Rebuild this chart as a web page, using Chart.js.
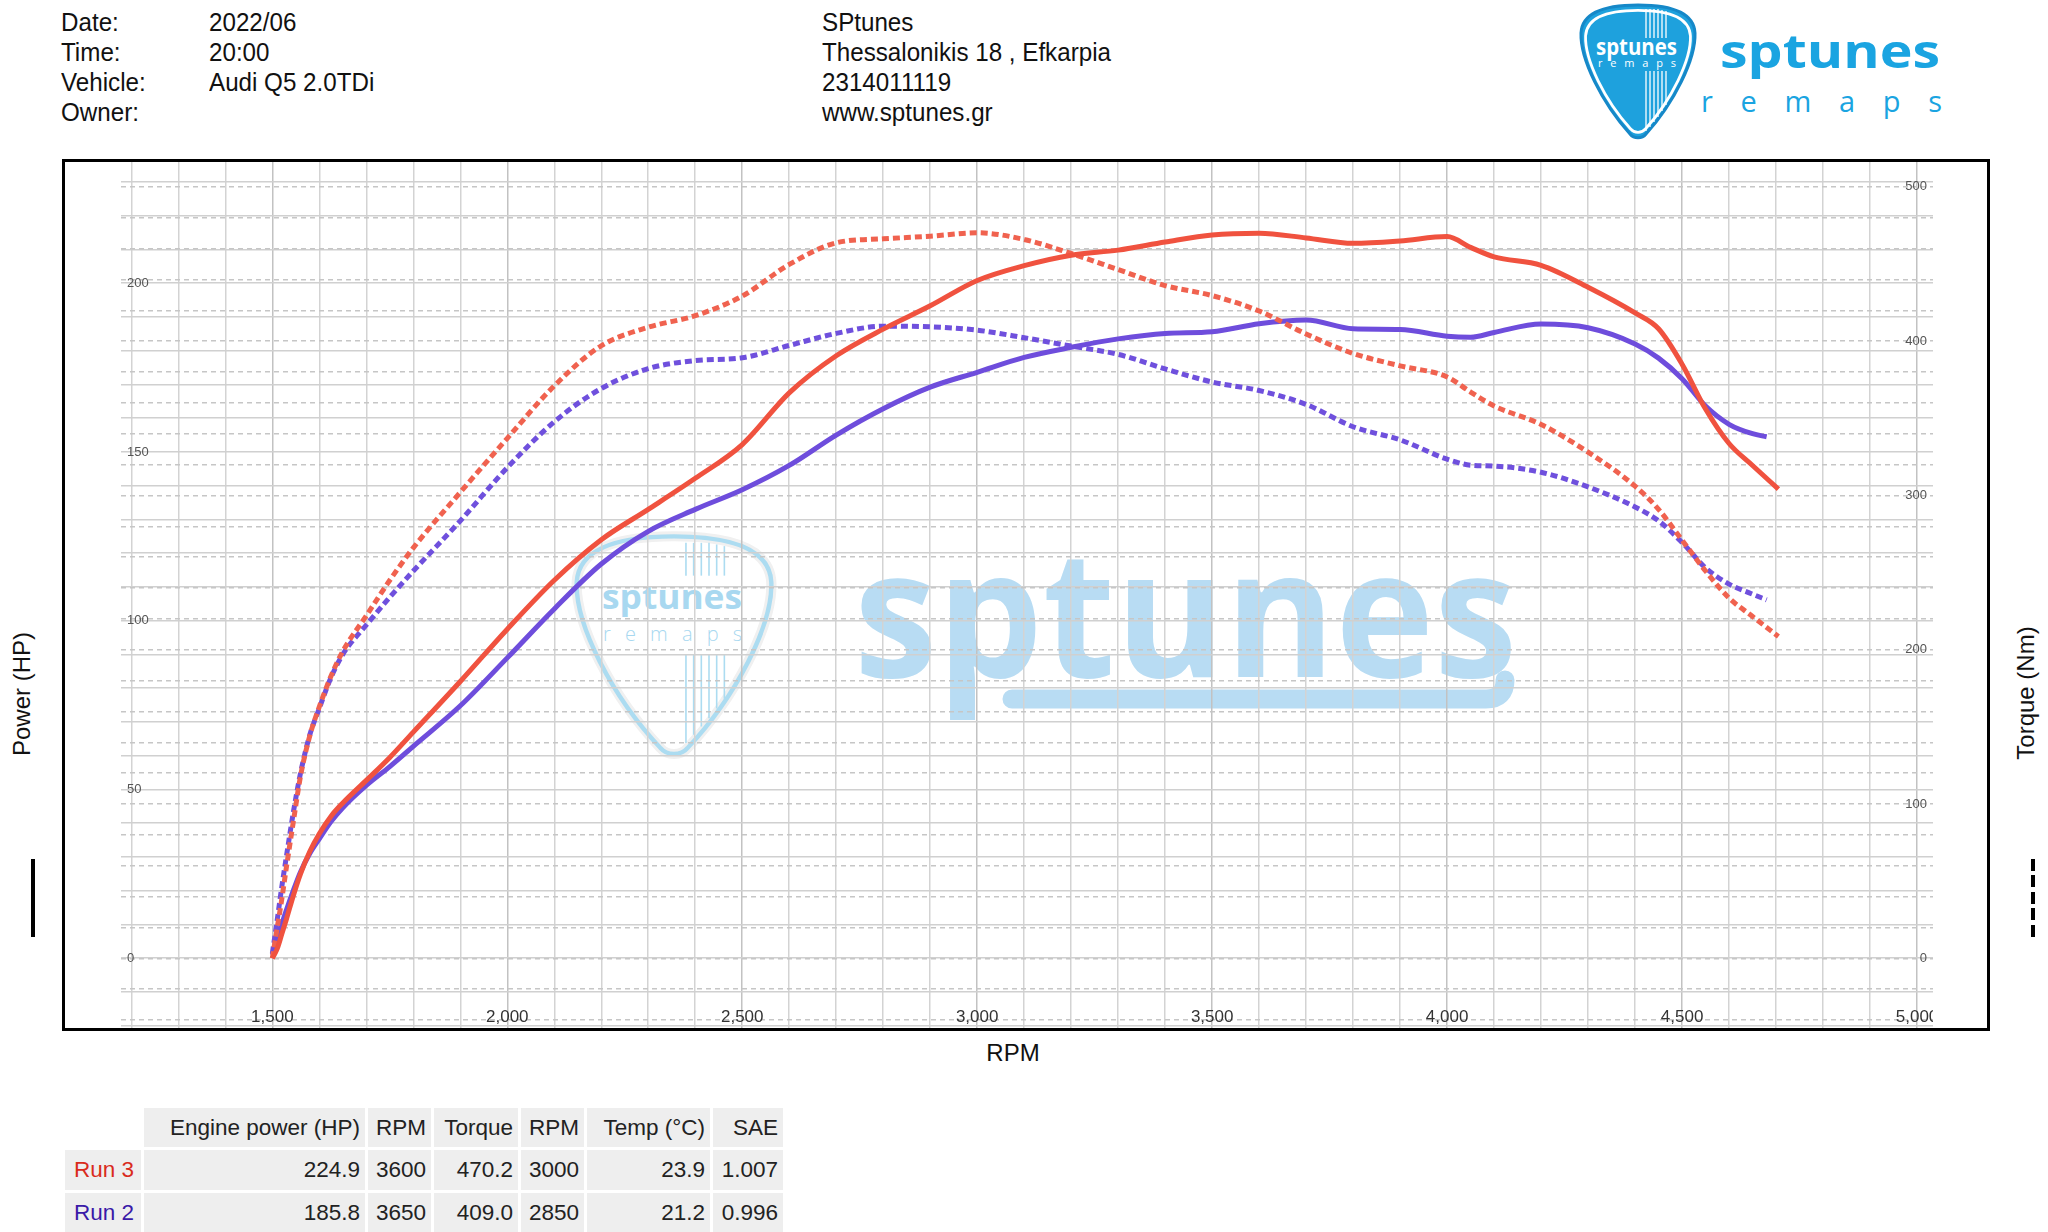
<!DOCTYPE html>
<html>
<head>
<meta charset="utf-8">
<script src="https://cdn.jsdelivr.net/npm/chart.js"></script>
<style>
html,body{margin:0;padding:0;background:#fff;width:2048px;height:1232px;overflow:hidden;font-family:"Liberation Sans",Arial,sans-serif;}
.abs{position:absolute;}
.hdr{position:absolute;font-size:26px;line-height:30px;color:#111;white-space:nowrap;transform:scaleX(0.93);transform-origin:left center;}
.frame{position:absolute;left:62px;top:159px;width:1928px;height:872px;border:3px solid #000;box-sizing:border-box;}
#wrap{position:absolute;left:121px;top:162px;width:1812px;height:866px;}
.vtitle{position:absolute;width:240px;text-align:center;font-size:24px;line-height:30px;color:#111;transform:rotate(-90deg);}
table.res{position:absolute;left:62px;top:1105px;border-collapse:separate;border-spacing:3px;font-size:22.5px;color:#222;}
table.res td{background:#eeeeee;text-align:right;padding:0;white-space:nowrap;}
table.res td span{margin-right:5px;}
table.res td.blank{background:transparent;}
</style>
</head>
<body>
<!-- decorative logos / watermark (below the chart canvas) -->
<svg class="abs" style="left:0;top:0" width="2048" height="1232">
  <defs>
    <path id="pick" d="M58,2 C92,2 114,10 115,30 C116,56 94,100 66,131 C62,136 54,136 50,131 C22,100 0,56 1,30 C2,10 24,2 58,2 Z"/>
  </defs>
  <!-- header logo -->
  <g transform="translate(1580,3)">
    <use href="#pick" fill="#1ea1dd" stroke="#1688c8" stroke-width="3"/>
    <g transform="translate(58,68) scale(0.92) translate(-58,-68)"><use href="#pick" fill="none" stroke="#ffffff" stroke-width="3"/></g>
    <g stroke="#ffffff" stroke-width="1.3">
      <line x1="66" y1="6" x2="66" y2="35"/><line x1="70" y1="6" x2="70" y2="35"/><line x1="74" y1="6" x2="74" y2="35"/>
      <line x1="78" y1="6" x2="78" y2="35"/><line x1="82" y1="7" x2="82" y2="35"/><line x1="86" y1="8" x2="86" y2="35"/>
      <line x1="66" y1="68" x2="66" y2="128"/><line x1="70" y1="68" x2="70" y2="124"/><line x1="74" y1="68" x2="74" y2="119"/>
      <line x1="78" y1="68" x2="78" y2="114"/><line x1="82" y1="68" x2="82" y2="108"/><line x1="86" y1="68" x2="86" y2="102"/>
    </g>
    <text x="16" y="52" font-family="Open Sans" font-weight="700" font-size="23" fill="#fff" textLength="81" lengthAdjust="spacingAndGlyphs">sptunes</text>
    <text x="18" y="64" font-family="Open Sans" font-weight="400" font-size="11" fill="#fff" textLength="78" lengthAdjust="spacing">remaps</text>
  </g>
  <text x="1720" y="68" font-family="Open Sans" font-weight="700" font-size="47" fill="#1aa4e1" textLength="220" lengthAdjust="spacingAndGlyphs">sptunes</text>
  <text x="1701" y="112" font-family="Open Sans" font-weight="400" font-size="29" fill="#1aa4e1" textLength="241" lengthAdjust="spacing">remaps</text>

  <!-- watermark -->
  <g transform="translate(575,533) scale(1.707,1.64)">
    <use href="#pick" fill="none" stroke="#f0f0f0" stroke-width="6" vector-effect="non-scaling-stroke"/>
    <use href="#pick" fill="none" stroke="#acdcf1" stroke-width="2.6" vector-effect="non-scaling-stroke"/>
    <g stroke="#acdcf1" stroke-width="1.6">
      <line x1="65" y1="6" x2="65" y2="26" vector-effect="non-scaling-stroke"/><line x1="69.5" y1="6" x2="69.5" y2="26" vector-effect="non-scaling-stroke"/>
      <line x1="74" y1="6" x2="74" y2="26" vector-effect="non-scaling-stroke"/><line x1="78.5" y1="6" x2="78.5" y2="26" vector-effect="non-scaling-stroke"/>
      <line x1="83" y1="7" x2="83" y2="26" vector-effect="non-scaling-stroke"/><line x1="87.5" y1="8" x2="87.5" y2="26" vector-effect="non-scaling-stroke"/>
      <line x1="65" y1="74" x2="65" y2="128" vector-effect="non-scaling-stroke"/><line x1="69.5" y1="74" x2="69.5" y2="123" vector-effect="non-scaling-stroke"/>
      <line x1="74" y1="74" x2="74" y2="118" vector-effect="non-scaling-stroke"/><line x1="78.5" y1="74" x2="78.5" y2="113" vector-effect="non-scaling-stroke"/>
      <line x1="83" y1="74" x2="83" y2="107" vector-effect="non-scaling-stroke"/><line x1="87.5" y1="74" x2="87.5" y2="101" vector-effect="non-scaling-stroke"/>
    </g>
  </g>
  <text x="602" y="609" font-family="Open Sans" font-weight="700" font-size="34" fill="#a8d8f0" textLength="140" lengthAdjust="spacingAndGlyphs">sptunes</text>
  <text x="603" y="641" font-family="Open Sans" font-weight="300" font-size="20" fill="#a8d8f0" textLength="139" lengthAdjust="spacing">remaps</text>
  <text x="854" y="677" font-family="Open Sans" font-weight="700" font-size="178" fill="#b8dcf3" textLength="663" lengthAdjust="spacingAndGlyphs">sptunes</text>
  <path d="M1012,699 L1486,699 Q1505,699 1505,680" fill="none" stroke="#b8dcf3" stroke-width="19" stroke-linecap="round"/>
</svg>

<!-- header -->
<div class="hdr" style="left:61px;top:7px">Date:</div>
<div class="hdr" style="left:209px;top:7px">2022/06</div>
<div class="hdr" style="left:61px;top:37px">Time:</div>
<div class="hdr" style="left:209px;top:37px">20:00</div>
<div class="hdr" style="left:61px;top:67px">Vehicle:</div>
<div class="hdr" style="left:209px;top:67px">Audi Q5 2.0TDi</div>
<div class="hdr" style="left:61px;top:97px">Owner:</div>
<div class="hdr" style="left:822px;top:7px">SPtunes</div>
<div class="hdr" style="left:822px;top:37px">Thessalonikis 18 , Efkarpia</div>
<div class="hdr" style="left:822px;top:67px">2314011119</div>
<div class="hdr" style="left:822px;top:97px">www.sptunes.gr</div>

<div class="frame"></div>
<div id="wrap"><canvas id="c" width="1812" height="866" style="width:1812px;height:866px"></canvas></div>

<!-- axis titles and line-style keys -->
<div class="vtitle" style="left:-98px;top:679px">Power (HP)</div>
<div class="vtitle" style="left:1906px;top:678px">Torque (Nm)</div>
<div class="abs" style="left:31px;top:859px;width:4px;height:78px;background:#000"></div>
<div class="abs" style="left:2031px;top:859px;width:4px;height:78px;background:repeating-linear-gradient(to bottom,#000 0,#000 12px,transparent 12px,transparent 16.5px)"></div>
<div class="abs" style="left:913px;top:1038px;width:200px;text-align:center;font-size:24px;line-height:30px;color:#111">RPM</div>

<!-- results table -->
<table class="res">
  <tr style="height:39px">
    <td class="blank" style="width:76px"></td>
    <td style="width:221px"><span>Engine power (HP)</span></td>
    <td style="width:63px"><span>RPM</span></td>
    <td style="width:84px"><span>Torque</span></td>
    <td style="width:63px"><span>RPM</span></td>
    <td style="width:123px"><span>Temp (°C)</span></td>
    <td style="width:70px"><span>SAE</span></td>
  </tr>
  <tr style="height:40px">
    <td><span style="color:#d92b1c;margin-right:7px">Run 3</span></td>
    <td><span>224.9</span></td><td><span>3600</span></td><td><span>470.2</span></td><td><span>3000</span></td><td><span>23.9</span></td><td><span>1.007</span></td>
  </tr>
  <tr style="height:39px">
    <td><span style="color:#3a1aa8;margin-right:7px">Run 2</span></td>
    <td><span>185.8</span></td><td><span>3650</span></td><td><span>409.0</span></td><td><span>2850</span></td><td><span>21.2</span></td><td><span>0.996</span></td>
  </tr>
</table>

<script>
// ---------- data ----------
const rpmRun3 = [1500,1510,1520,1530,1545,1560,1580,1600,1625,1650,1700,1750,1800,1900,2000,2100,2200,2300,2400,2500,2600,2700,2800,2900,3000,3100,3200,3300,3400,3500,3600,3700,3800,3900,4000,4050,4100,4200,4300,4400,4450,4500,4550,4600,4650,4705];
const rpmRun2 = [1500,1510,1520,1530,1545,1560,1580,1600,1625,1650,1700,1750,1800,1900,2000,2100,2200,2300,2400,2500,2600,2700,2800,2900,3000,3100,3200,3300,3400,3500,3600,3700,3800,3900,4000,4050,4100,4200,4300,4400,4450,4500,4550,4600,4650,4680];

const run3Power = [0,2.7,7.1,11.6,18.7,25,31.7,36.9,42.1,46,52.7,59.5,67,82,97.5,112,124,133,142.2,152.2,167.5,178.5,186.4,193.3,200.8,205.2,208.3,209.8,212.2,214.3,214.8,213.4,211.8,212.5,213.8,210.6,207.8,205.3,198.8,191.2,186.5,176,162.7,152.5,146,139];
const run2Power = [1,5.6,10.1,14.3,20.2,25.6,31.1,35.4,40.5,44.6,51.2,56.8,62.8,74.8,89,103.5,116.8,126.5,133,138.8,146,155,162.8,169.2,173.6,178,181,183.5,185.1,185.6,188,189.1,186.5,186.3,184.3,184,185.4,187.9,186.8,182,177.8,171.7,163.6,158.2,155.4,154.5];
const run3Torque = [0,19,38,59,89,118,144.5,163,183,199,222,245,266,302,337,371,397,409,416.5,429.2,449.7,463.7,466.3,468,470.2,465.9,456.8,446.4,436,429.5,419.5,404.6,392,384,376.8,367,358,346,328,306,291,271,251,233.5,221.5,208.5];
const run2Torque = [3,24,46,66,95,120,145,162,182,197,216,234,251,283.5,318,347.7,369.3,382.2,387.4,389.2,397.2,405,409.7,409.3,407.1,402.2,396.8,391.4,382,373.5,368,359,344.5,336,323.5,319.6,319,315,305.5,292.5,283.5,269.5,253,242.5,236,232.3];

// ---------- ticks ----------
const rpmTicks = [1200,1300,1400,1500,1600,1700,1800,1900,2000,2100,2200,2300,2400,2500,2600,2700,2800,2900,3000,3100,3200,3300,3400,3500,3600,3700,3800,3900,4000,4100,4200,4300,4400,4500,4600,4700,4800,4900,5000];
const rpmLabelTicks = [1500,2000,2500,3000,3500,4000,4500,5000];
const powerTicks = [-20,-10,0,10,20,30,40,50,60,70,80,90,100,110,120,130,140,150,160,170,180,190,200,210,220,230];
const powerLabelTicks = [0,50,100,150,200];
const torqueTicks = [-40,-20,0,20,40,60,80,100,120,140,160,180,200,220,240,260,280,300,320,340,360,380,400,420,440,460,480,500];
const torqueLabelTicks = [0,100,200,300,400,500];

const RED = '#f0523f';
const RED_D = '#f0624f';
const PURPLE = '#6e4ddc';
const PURPLE_D = '#6f50dd';

function xy(xs, ys){ return xs.map((x,i)=>({x:x, y:ys[i]})); }

Chart.defaults.font.family = '"Liberation Sans", Arial, sans-serif';

function noSpace(s, horiz){
  if (horiz) s.height = 0; else s.width = 0;
  s.paddingTop = 0; s.paddingBottom = 0; s.paddingLeft = 0; s.paddingRight = 0;
}

const rpmLabelPlugin = {
  id: 'rpmLabels',
  beforeDatasetsDraw(chart){
    const {ctx, chartArea, scales} = chart;
    const x = scales.x;
    ctx.save();
    ctx.beginPath();
    ctx.rect(chartArea.left, chartArea.top, chartArea.right-chartArea.left, chartArea.bottom-chartArea.top);
    ctx.clip();
    ctx.font = '17px "Liberation Sans", Arial, sans-serif';
    ctx.fillStyle = '#333';
    ctx.textAlign = 'center';
    ctx.textBaseline = 'middle';
    rpmLabelTicks.forEach(v => ctx.fillText(v.toLocaleString('en-US'), x.getPixelForValue(v), chartArea.bottom - 11));
    ctx.restore();
  }
};

const lineBase = {pointRadius:0, borderWidth:5, fill:false, cubicInterpolationMode:'monotone', borderCapStyle:'butt'};

new Chart(document.getElementById('c'), {
  type: 'line',
  data: {
    datasets: [
      Object.assign({label:'Run 3 power', data: xy(rpmRun3, run3Power), borderColor: RED, yAxisID:'y'}, lineBase),
      Object.assign({label:'Run 3 torque', data: xy(rpmRun3, run3Torque), borderColor: RED_D, borderDash:[7,4], yAxisID:'y2'}, lineBase),
      Object.assign({label:'Run 2 power', data: xy(rpmRun2, run2Power), borderColor: PURPLE, yAxisID:'y'}, lineBase),
      Object.assign({label:'Run 2 torque', data: xy(rpmRun2, run2Torque), borderColor: PURPLE_D, borderDash:[7,4], yAxisID:'y2'}, lineBase)
    ]
  },
  options: {
    responsive: false,
    animation: false,
    layout: {padding: 0, autoPadding: false},
    plugins: {legend:{display:false}, tooltip:{enabled:false}},
    scales: {
      x: {
        type: 'linear', min: 1178, max: 5034,
        afterBuildTicks: s => { s.ticks = rpmTicks.map(v => ({value:v})); },
        afterFit: s => noSpace(s, true),
        ticks: {display:false},
        border: {display:false},
        grid: {drawTicks:false, lineWidth:1.5, color: c => (c.tick && c.tick.value % 500 === 0) ? '#c2c2c2' : '#d3d3d3'}
      },
      y: {
        type: 'linear', position: 'left', min: -20.65, max: 235.9,
        afterBuildTicks: s => { s.ticks = powerTicks.map(v => ({value:v})); },
        afterFit: s => noSpace(s, false),
        ticks: {mirror:true, padding:6, color:'#555', font:{size:13}, callback: v => powerLabelTicks.includes(v) ? String(v) : ''},
        border: {display:false},
        grid: {drawTicks:false, lineWidth:1.6, color:'#d0d0d0'}
      },
      y2: {
        type: 'linear', position: 'right', min: -45.2, max: 516.1,
        afterBuildTicks: s => { s.ticks = torqueTicks.map(v => ({value:v})); },
        afterFit: s => noSpace(s, false),
        ticks: {mirror:true, padding:-6, color:'#555', font:{size:13}, callback: v => torqueLabelTicks.includes(v) ? String(v) : ''},
        border: {display:false, dash:[5,4]},
        grid: {drawTicks:false, lineWidth:1.4, color:'#c6c6c6'}
      }
    }
  },
  plugins: [rpmLabelPlugin]
});
</script>
</body>
</html>
